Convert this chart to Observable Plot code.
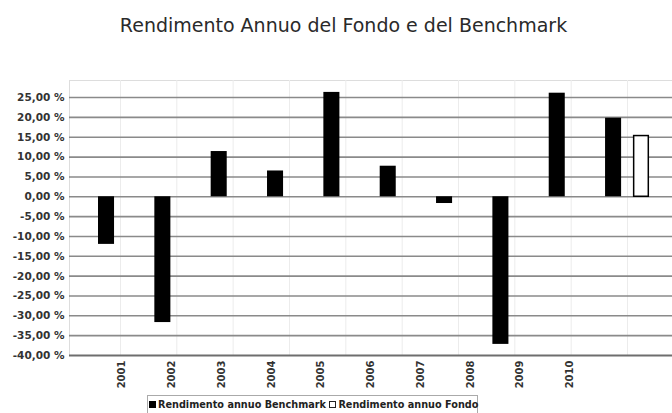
<!DOCTYPE html>
<html>
<head>
<meta charset="utf-8">
<script src="https://cdn.jsdelivr.net/npm/d3@7"></script>
<script src="https://cdn.jsdelivr.net/npm/@observablehq/plot@0.6"></script>
<style>
  html, body { margin: 0; padding: 0; background: #fff; }
  #wrap { position: relative; width: 672px; height: 413px; overflow: hidden; font-family: "DejaVu Sans", sans-serif; }
  #title { position: absolute; top: 14px; left: 0; width: 687px; text-align: center; font-size: 19px; color: #2a2a2a; }
  #main, #xlab { position: absolute; left: 0; }
  #main { top: 0; }
  #xlab { top: 355px; }
  #legend { position: absolute; left: 147px; top: 395px; width: 331px; height: 24px; border: 1px solid #aaa; box-sizing: border-box;
            font-size: 9.7px; font-weight: bold; color: #222; white-space: nowrap; padding: 3px 0 0 1px; }
  .sw { display: inline-block; width: 7px; height: 7px; margin-right: 2px; vertical-align: 0px; box-sizing: border-box; }
</style>
</head>
<body>
<div id="wrap">
  <div id="title">Rendimento Annuo del Fondo e del Benchmark</div>
  <div id="main"></div>
  <div id="xlab"></div>
  <div id="legend"></div>
</div>
<script>
const years = ["2001","2002","2003","2004","2005","2006","2007","2008","2009","2010"];
const benchmark = [-12.0, -31.7, 11.4, 6.5, 26.3, 7.7, -1.7, -37.2, 26.1, 19.8];
const fondo = [null, null, null, null, null, null, null, null, null, 15.3];
const yTicks = [-40, -35, -30, -25, -20, -15, -10, -5, 0, 5, 10, 15, 20, 25];
const seriesNames = ["Rendimento annuo Benchmark", "Rendimento annuo Fondo"];

const benchData = years.map((y, i) => ({year: y, value: benchmark[i]}));
const fondoData = years.map((y, i) => ({year: y, value: fondo[i]})).filter(d => d.value != null);

const fmt = d => d.toFixed(2).replace(".", ",") + " %";

const main = Plot.plot({
  width: 672,
  height: 413,
  marginTop: 80,
  marginBottom: 58,
  marginLeft: 69,
  marginRight: 0,
  style: {background: "transparent", fontFamily: "DejaVu Sans, sans-serif"},
  x: {type: "band", domain: years, range: [91.8, 655.2], padding: 0, round: false, axis: null},
  y: {domain: [-40, 29.3], axis: null},
  marks: [
    Plot.frame({stroke: "#dddddd", strokeWidth: 1}),
    Plot.ruleX(years, {x: d => d, stroke: "#ececec", strokeWidth: 1}),
    Plot.ruleY(yTicks.filter(d => d > -40), {y: d => d, stroke: "#8a8a8a", strokeWidth: 1.6}),
    Plot.ruleY([-40], {y: d => d, stroke: "#6e6e6e", strokeWidth: 2.2}),
    Plot.barY(benchData, {x: "year", y: "value", fill: "#000", insetLeft: 6.2, insetRight: 34.1}),
    Plot.barY(fondoData, {x: "year", y: "value", fill: "#fff", stroke: "#000", strokeWidth: 1.5, insetLeft: 34.8, insetRight: 6.9}),
    Plot.axisY(yTicks, {tickSize: 0, tickPadding: 5, tickFormat: fmt, fontSize: 10.5, fontWeight: "bold", fill: "#333", label: null})
  ]
});
document.getElementById("main").appendChild(main);

const xlab = Plot.plot({
  width: 672,
  height: 40,
  marginTop: 0,
  marginBottom: 40,
  marginLeft: 0,
  marginRight: 0,
  style: {background: "transparent", fontFamily: "DejaVu Sans, sans-serif"},
  x: {type: "band", domain: years, range: [96.8, 594.2], padding: 0, round: false},
  y: {axis: null},
  marks: [
    Plot.axisX({tickSize: 0, tickPadding: 5, tickRotate: -90, fontSize: 10, fontWeight: "bold", fill: "#333", label: null})
  ]
});
document.getElementById("xlab").appendChild(xlab);

const legend = document.getElementById("legend");
legend.innerHTML =
  `<span class="sw" style="background:#000"></span>${seriesNames[0]} ` +
  `<span class="sw" style="background:#fff;border:1.5px solid #222"></span>${seriesNames[1]}`;
</script>
</body>
</html>
